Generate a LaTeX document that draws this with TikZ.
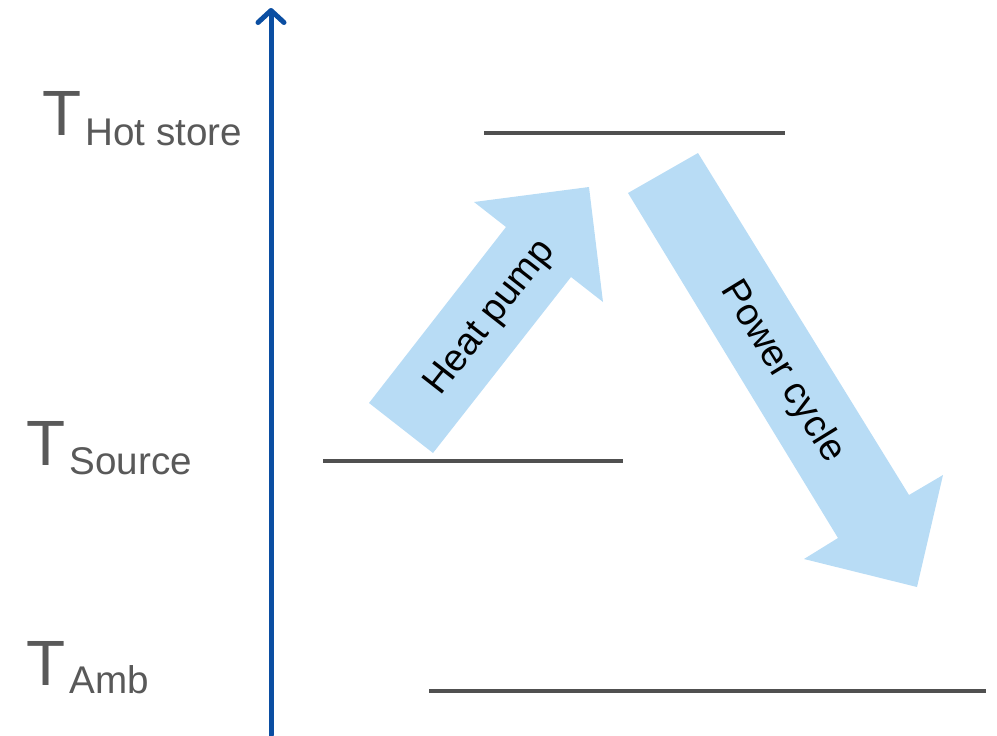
\documentclass[tikz,border=0pt]{standalone}
\usepackage{fontspec}
\setmainfont{Liberation Sans}
\usetikzlibrary{arrows.meta}

\definecolor{axisblue}{HTML}{0B4EA2}
\definecolor{levelgray}{HTML}{505050}
\definecolor{flowblue}{HTML}{B8DCF5}
\definecolor{labelgray}{HTML}{595959}

\newcommand{\templabel}[2]{{\fontsize{32}{32}\selectfont T}\kern2pt\raisebox{#2}{\fontsize{19.3}{20}\selectfont #1}}

\tikzset{
  level/.style={levelgray, line width=2pt, line cap=butt},
  flow/.style={fill=flowblue, draw=none},
  tlabel/.style={labelgray, anchor=base west, inner sep=0pt},
  flowtext/.style={font=\fontsize{19}{20}\selectfont, inner sep=0pt}
}

\begin{document}
\begin{tikzpicture}[x=0.5pt, y=-0.5pt, >={Straight Barb[round,length=6pt,width=13pt]}, line join=round, line cap=round]
    \useasboundingbox (0,0) rectangle (997,735);
    % temperature axis
    \coordinate (axbot) at (271,735);
    \coordinate (axtop) at (271,8);
    \draw[->, axisblue, line width=2.5pt] (axbot) -- (axtop);

    % levels
    \draw[level] (484,133) -- (785,133);
    \draw[level] (323,461) -- (623,461);
    \draw[level] (429,691) -- (986,691);

    \node[tlabel] (thot) at (42,135) {\templabel{Hot store}{-5pt}};
    \node[tlabel] (tsrc) at (26,465) {\templabel{Source}{-4.5pt}};
    \node[tlabel] (tamb) at (26,685) {\templabel{Amb}{-4pt}};

    % heat pump arrow
    \fill[flow] (369,403) -- (506,227) -- (474,202) -- (589,187) -- (603,302)
                -- (571,277) -- (433,453) -- cycle;
    \node[flowtext, rotate=52] (hp) at (491,318) {Heat pump};

    % power cycle arrow
    \fill[flow] (628,193) -- (698,153) -- (909,495) -- (943,475) -- (917,587)
                -- (804,559) -- (838,538) -- cycle;
    \node[flowtext, rotate=-58.5] (pc) at (782,372) {Power cycle};
\end{tikzpicture}
\end{document}
